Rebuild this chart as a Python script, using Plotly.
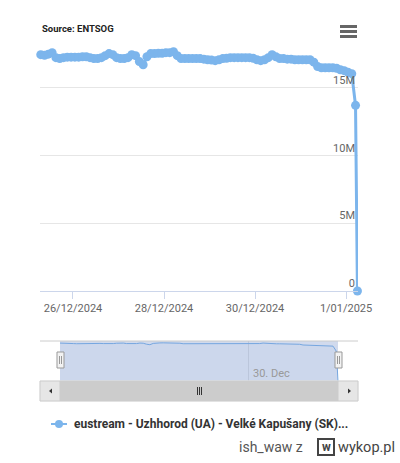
import plotly.graph_objects as go
import pandas as pd

# ---- data ----
plateau_start = "2024-12-25 07:00"
plateau_step = "2h"
plateau_values_m = [
    17.44, 17.40, 17.48, 17.59, 17.22, 17.15, 17.22, 17.26, 17.26, 17.26,
    17.26, 17.29, 17.29, 17.22, 17.15, 17.15, 17.22, 17.37, 17.52, 17.44,
    17.22, 17.15, 17.15, 17.22, 17.44, 17.37, 16.93, 16.70, 17.29, 17.52,
    17.52, 17.55, 17.55, 17.59, 17.59, 17.66, 17.37, 17.15, 17.15, 17.15,
    17.15, 17.15, 17.15, 17.11, 17.07, 17.04, 17.00, 17.07, 17.15, 17.18,
    17.22, 17.22, 17.22, 17.22, 17.22, 17.22, 17.18, 17.07, 17.00, 17.07,
    17.22, 17.44, 17.29, 17.15, 17.15, 17.11, 17.11, 17.07, 17.07, 17.07,
    17.07, 17.07, 16.89, 16.56, 16.48, 16.48, 16.48, 16.48, 16.44, 16.33,
    16.26, 16.15, 16.04,
]
final_times = ["2025-01-01 05:00", "2025-01-01 06:00"]
final_values_m = [13.7, 0.0]

series_name = "eustream - Uzhhorod (UA) - Velké Kapušany (SK)..."
source_text = "Source: ENTSOG"
x_tick_first = "2024-12-26"
x_tick_step_days = 2
x_tick_format = "%-d/%m/%Y"
y_tick_vals = [0, 5e6, 10e6, 15e6, 20e6]
y_tick_text = ["0", "5M", "10M", "15M", ""]
nav_tick_vals = ["2024-12-30"]
nav_tick_text = ["30. Dec"]

times = list(pd.date_range(plateau_start, periods=len(plateau_values_m), freq=plateau_step)) + \
        [pd.Timestamp(t) for t in final_times]
values = [v * 1e6 for v in plateau_values_m + final_values_m]

# ---- layout helpers (pixel -> paper) ----
W, H = 400, 463
def X(px): return px / W
def Y(py): return 1 - py / H

BLUE = "#7cb5ec"
FONT = "Roboto, 'Liberation Sans', sans-serif"

fig = go.Figure()

fig.add_trace(go.Scatter(
    x=times, y=values, mode="lines+markers", name=series_name,
    line=dict(color=BLUE, width=3), marker=dict(color=BLUE, size=9),
    cliponaxis=False, showlegend=False, xaxis="x", yaxis="y",
))
fig.add_trace(go.Scatter(
    x=times, y=values, mode="lines", line=dict(color=BLUE, width=1),
    fill="tozeroy", fillcolor="rgba(124,181,236,0.05)",
    showlegend=False, xaxis="x2", yaxis="y2",
))

shapes = []
# navigator mask
shapes.append(dict(type="rect", xref="x2", yref="y2 domain", x0=times[0], x1=times[-1],
                   y0=0, y1=1, fillcolor="rgba(102,133,194,0.3)", line=dict(width=0), layer="above"))
# navigator top outline
shapes.append(dict(type="line", xref="paper", yref="paper", x0=X(40), x1=X(358), y0=Y(341), y1=Y(341),
                   line=dict(color="#cccccc", width=1)))
# navigator handles
for cx in (60.5, 338.5):
    shapes.append(dict(type="rect", xref="paper", yref="paper", x0=X(cx - 3.5), x1=X(cx + 3.5),
                       y0=Y(368), y1=Y(352), fillcolor="#f2f2f2", line=dict(color="#999999", width=1)))
    for dx in (-1, 1):
        shapes.append(dict(type="line", xref="paper", yref="paper", x0=X(cx + dx), x1=X(cx + dx),
                           y0=Y(364), y1=Y(356), line=dict(color="#999999", width=1)))
# scrollbar track
shapes.append(dict(type="rect", xref="paper", yref="paper", x0=X(40), x1=X(358), y0=Y(401), y1=Y(381),
                   fillcolor="#f2f2f2", line=dict(color="#f2f2f2", width=1)))
# thumb
shapes.append(dict(type="rect", xref="paper", yref="paper", x0=X(60), x1=X(338), y0=Y(401), y1=Y(381),
                   fillcolor="#cccccc", line=dict(color="#cccccc", width=1)))
# buttons
for bx0, bx1 in ((40, 60), (338, 358)):
    shapes.append(dict(type="rect", xref="paper", yref="paper", x0=X(bx0), x1=X(bx1), y0=Y(401), y1=Y(381),
                       fillcolor="#e6e6e6", line=dict(color="#cccccc", width=1)))
# arrows
def tri(points):
    return "M " + " L ".join(f"{X(a)},{Y(b)}" for a, b in points) + " Z"
shapes.append(dict(type="path", xref="paper", yref="paper", path=tri([(52, 388.5), (52, 393.5), (49, 391)]),
                   fillcolor="#333333", line=dict(width=0)))
shapes.append(dict(type="path", xref="paper", yref="paper", path=tri([(348, 388.5), (348, 393.5), (351, 391)]),
                   fillcolor="#333333", line=dict(width=0)))
# thumb grip
for gx in (197.5, 199.5, 201.5):
    shapes.append(dict(type="line", xref="paper", yref="paper", x0=X(gx), x1=X(gx), y0=Y(395), y1=Y(387),
                       line=dict(color="#333333", width=1)))
# hamburger menu
for by in (26.5, 31.5, 36.5):
    shapes.append(dict(type="line", xref="paper", yref="paper", x0=X(340), x1=X(357), y0=Y(by), y1=Y(by),
                       line=dict(color="#666666", width=3)))
# legend symbol
shapes.append(dict(type="line", xref="paper", yref="paper", x0=X(51), x1=X(67), y0=Y(424), y1=Y(424),
                   line=dict(color=BLUE, width=2)))
shapes.append(dict(type="circle", xref="paper", yref="paper", x0=X(55), x1=X(63), y0=Y(428), y1=Y(420),
                   fillcolor=BLUE, line=dict(width=0)))
# wykop logo box
shapes.append(dict(type="rect", xref="paper", yref="paper", x0=X(318), x1=X(334), y0=Y(455), y1=Y(439),
                   fillcolor="rgba(0,0,0,0)", line=dict(color="#444444", width=2)))

annotations = [
    dict(text=f"<b>{source_text}</b>", x=X(40), y=Y(28), xref="paper", yref="paper",
         xanchor="left", yanchor="middle", showarrow=False, font=dict(size=9.5, color="#222222", family=FONT)),
    dict(text=nav_tick_text[0], x=X(251), y=Y(373), xref="paper", yref="paper",
         xanchor="left", yanchor="middle", showarrow=False, font=dict(size=11, color="#999999", family=FONT)),
    dict(text=f"<b>{series_name}</b>", x=X(72), y=Y(424), xref="paper", yref="paper",
         xanchor="left", yanchor="middle", showarrow=False, font=dict(size=12, color="#333333", family=FONT)),
    dict(text="ish_waw z", x=X(305), y=Y(447), xref="paper", yref="paper",
         xanchor="right", yanchor="middle", showarrow=False, font=dict(size=14, color="#555555", family=FONT)),
    dict(text="<b>w</b>", x=X(326), y=Y(447), xref="paper", yref="paper",
         xanchor="center", yanchor="middle", showarrow=False, font=dict(size=12, color="#444444", family=FONT)),
    dict(text="wykop.pl", x=X(336), y=Y(447), xref="paper", yref="paper",
         xanchor="left", yanchor="middle", showarrow=False, font=dict(size=14.5, color="#444444", family=FONT)),
]

nav_span_px = 338 - 60
hours_total = (times[-1] - times[0]).total_seconds() / 3600
pad_h = 20 * hours_total / nav_span_px
nav_range = [times[0] - pd.Timedelta(hours=pad_h), times[-1] + pd.Timedelta(hours=pad_h)]

fig.update_layout(
    width=W, height=H, autosize=False,
    margin=dict(l=0, r=0, t=0, b=0, pad=0, autoexpand=False),
    paper_bgcolor="white", plot_bgcolor="white",
    font=dict(family=FONT, color="#666666"),
    hovermode=False,
    xaxis=dict(domain=[X(40), X(358)], range=["2024-12-25 06:36", "2025-01-01 06:18"],
               tickmode="linear", tick0=x_tick_first, dtick=x_tick_step_days * 86400000,
               tickformat=x_tick_format, showgrid=False,
               showline=True, linecolor="#ccd6eb", linewidth=1,
               ticks="outside", ticklen=7, tickcolor="#ccd6eb",
               tickfont=dict(size=11, color="#666666"), anchor="y", fixedrange=True,
               automargin=False, ticklabeloverflow="allow"),
    yaxis=dict(domain=[Y(291), Y(20)], range=[0, 20e6], tickvals=y_tick_vals, ticktext=y_tick_text,
               side="right", ticklabelposition="inside top", showgrid=True, gridcolor="#e6e6e6",
               zeroline=False, showline=False, tickfont=dict(size=11, color="#666666"),
               anchor="x", fixedrange=True, automargin=False, ticklabeloverflow="allow"),
    xaxis2=dict(domain=[X(40), X(358)], range=nav_range, tickvals=nav_tick_vals,
                showticklabels=False, showgrid=True, gridcolor="#e6e6e6", zeroline=False,
                showline=False, anchor="y2", fixedrange=True, automargin=False),
    yaxis2=dict(domain=[Y(381), Y(341)], range=[0, 18.4e6], showgrid=False, showticklabels=False,
                zeroline=False, showline=False, anchor="x2", fixedrange=True, automargin=False),
    shapes=shapes, annotations=annotations,
)

fig.write_html(
    "out.html",
    config={"displayModeBar": False, "staticPlot": True, "responsive": False},
    post_script=("document.body.style.margin='0';document.body.style.overflow='hidden';"
                 "document.documentElement.style.overflow='hidden';"),
)
